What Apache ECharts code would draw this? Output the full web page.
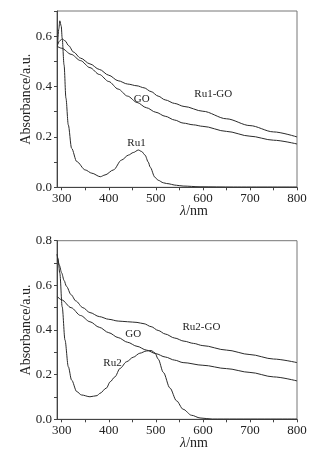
<!DOCTYPE html>
<html>
<head>
<meta charset="utf-8">
<script src="https://cdn.jsdelivr.net/npm/echarts@6/dist/echarts.min.js"></script>
<style>html,body{margin:0;padding:0;background:#fff;}#c{width:328px;height:457px;}</style>
</head>
<body>
<div id="c"></div>
<script>
// ---- data ----
var xTicks = [300, 400, 500, 600, 700, 800];
var xMinorTicks = [300, 350, 400, 450, 500, 550, 600, 650, 700, 750, 800];
var yTicksTop = [0, 0.2, 0.4, 0.6];
var yTicksBottom = [0, 0.2, 0.4, 0.6, 0.8];

// top panel
var ru1GoX = [291, 296, 301, 307, 315, 325, 340, 360, 380, 400, 420, 440, 460, 475, 490, 505, 520, 540, 560, 600, 650, 700, 750, 800];
var ru1GoY = [0.565, 0.582, 0.589, 0.582, 0.562, 0.537, 0.513, 0.49, 0.468, 0.445, 0.423, 0.41, 0.403, 0.395, 0.38, 0.362, 0.347, 0.333, 0.321, 0.302, 0.272, 0.245, 0.22, 0.200];
var goTopX = [291, 300, 320, 340, 360, 380, 400, 420, 440, 460, 480, 500, 520, 540, 558, 580, 600, 650, 700, 750, 800];
var goTopY = [0.559, 0.552, 0.528, 0.503, 0.475, 0.448, 0.42, 0.39, 0.362, 0.337, 0.316, 0.298, 0.282, 0.267, 0.255, 0.248, 0.242, 0.222, 0.203, 0.187, 0.172];
var ru1X = [291, 294, 296, 299, 301, 305, 309, 314, 321, 332, 350, 364, 382, 392, 410, 427, 442, 452, 463, 470, 477, 484, 488, 498, 505, 516, 523, 544, 558, 594, 665, 800];
var ru1Y = [0.559, 0.63, 0.661, 0.64, 0.592, 0.486, 0.354, 0.248, 0.155, 0.102, 0.069, 0.056, 0.042, 0.049, 0.069, 0.108, 0.128, 0.138, 0.148, 0.142, 0.128, 0.1, 0.08, 0.04, 0.028, 0.018, 0.015, 0.008, 0.005, 0.002, 0.001, 0.001];

// bottom panel
var ru2GoX = [291, 295, 300, 305, 310, 320, 330, 345, 360, 380, 400, 420, 440, 460, 475, 490, 505, 520, 540, 560, 580, 600, 650, 700, 750, 800];
var ru2GoY = [0.725, 0.69, 0.655, 0.622, 0.596, 0.558, 0.53, 0.5, 0.478, 0.46, 0.448, 0.44, 0.437, 0.434, 0.428, 0.415, 0.398, 0.382, 0.364, 0.35, 0.34, 0.33, 0.31, 0.29, 0.27, 0.254];
var goBotX = [291, 300, 320, 340, 360, 380, 400, 420, 440, 460, 480, 500, 520, 540, 558, 600, 650, 700, 750, 800];
var goBotY = [0.549, 0.535, 0.5, 0.465, 0.437, 0.412, 0.388, 0.366, 0.345, 0.327, 0.31, 0.294, 0.279, 0.265, 0.254, 0.242, 0.227, 0.21, 0.19, 0.172];
var ru2X = [290, 292, 296, 301, 307, 314, 321, 332, 342, 360, 375, 381, 395, 403, 413, 424, 438, 452, 466, 480, 490, 498, 505, 516, 530, 544, 558, 576, 594, 620, 800];
var ru2Y = [0.74, 0.72, 0.654, 0.504, 0.355, 0.236, 0.176, 0.124, 0.109, 0.101, 0.106, 0.116, 0.14, 0.168, 0.19, 0.228, 0.258, 0.278, 0.296, 0.306, 0.308, 0.298, 0.27, 0.21, 0.14, 0.083, 0.045, 0.018, 0.006, 0.001, 0.001];

var seriesNames = ['Ru1-GO', 'GO', 'Ru1', 'Ru2-GO', 'GO', 'Ru2'];

function pairs(xs, ys) { return xs.map(function (x, i) { return [x, ys[i]]; }); }

var FONT = '"Liberation Serif", "Times New Roman", serif';
var INK = '#222';

function xAxisCfg(gi) {
  return {
    type: 'value', gridIndex: gi, min: 290, max: 800,
    axisLine: { show: true, onZero: false, lineStyle: { color: '#444', width: 1 } },
    axisTick: { show: true, length: 3, customValues: xMinorTicks, lineStyle: { color: '#444' } },
    axisLabel: { customValues: xTicks, color: INK, fontFamily: FONT, fontSize: 13, margin: 5 },
    splitLine: { show: false },
    name: '{i|λ}/nm', nameLocation: 'middle', nameGap: 17, nameMoveOverlap: false,
    nameTextStyle: { color: INK, fontFamily: FONT, fontSize: 14, padding: [0, 0, 0, 34],
      rich: { i: { fontStyle: 'italic', fontFamily: FONT, fontSize: 14, color: INK } } }
  };
}
function yAxisCfg(gi, max, labels) {
  return {
    type: 'value', gridIndex: gi, min: 0, max: max, interval: 0.1,
    axisLine: { show: true, lineStyle: { color: '#444', width: 1 } },
    axisTick: { show: true, length: 3, lineStyle: { color: '#444' } },
    axisLabel: { customValues: labels, color: INK, fontFamily: FONT, fontSize: 13, margin: 5,
      formatter: function (v) { return v.toFixed(1); } },
    splitLine: { show: false },
    name: 'Absorbance/a.u.', nameLocation: 'middle', nameGap: 24, nameMoveOverlap: false,
    nameTextStyle: { color: INK, fontFamily: FONT, fontSize: 14 }
  };
}
function lineSeries(name, gi, data, lab) {
  return {
    name: name, type: 'line', xAxisIndex: gi, yAxisIndex: gi,
    data: data, showSymbol: false, smooth: 0.3, smoothMonotone: 'x',
    lineStyle: { color: '#2a2a2a', width: 1 }, silent: true, animation: false,
    markPoint: {
      symbol: 'circle', symbolSize: 0, silent: true, animation: false,
      label: { show: true, position: 'inside', color: INK, fontFamily: FONT, fontSize: 11, formatter: name },
      data: [{ coord: lab }]
    }
  };
}

var chart = echarts.init(document.getElementById('c'), null, { renderer: 'canvas' });
chart.setOption({
  backgroundColor: '#fff',
  animation: false,
  grid: [
    { left: 57, right: 31, top: 11, height: 176.3, show: true, borderColor: '#777', borderWidth: 1 },
    { left: 57, right: 31, top: 240.7, height: 178.6, show: true, borderColor: '#777', borderWidth: 1 }
  ],
  xAxis: [xAxisCfg(0), xAxisCfg(1)],
  yAxis: [yAxisCfg(0, 0.7, yTicksTop), yAxisCfg(1, 0.8, yTicksBottom)],
  series: [
    lineSeries(seriesNames[0], 0, pairs(ru1GoX, ru1GoY), [622, 0.371]),
    lineSeries(seriesNames[1], 0, pairs(goTopX, goTopY), [470, 0.35]),
    lineSeries(seriesNames[2], 0, pairs(ru1X, ru1Y), [459, 0.175]),
    lineSeries(seriesNames[3], 1, pairs(ru2GoX, ru2GoY), [597, 0.413]),
    lineSeries(seriesNames[4], 1, pairs(goBotX, goBotY), [452, 0.382]),
    lineSeries(seriesNames[5], 1, pairs(ru2X, ru2Y), [408, 0.253])
  ]
});
</script>
</body>
</html>
